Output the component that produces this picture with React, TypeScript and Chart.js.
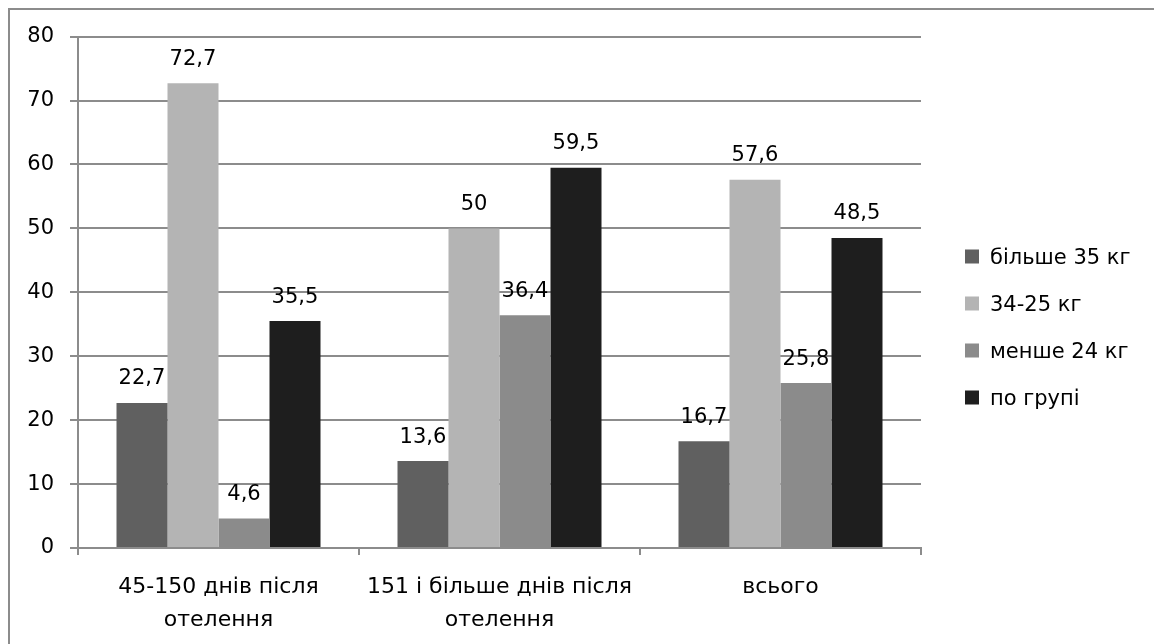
import { useEffect, useRef } from "react";
import { Chart, registerables } from "chart.js";

Chart.register(...registerables);

const categories: (string | string[])[] = [
  ["45-150 днів після", "отелення"],
  ["151 і більше днів після", "отелення"],
  "всього",
];
const seriesNames = ["більше 35 кг", "34-25 кг", "менше 24 кг", "по групі"];
const over35 = [22.7, 13.6, 16.7];
const from34to25 = [72.7, 50, 57.6];
const under24 = [4.6, 36.4, 25.8];
const byGroup = [35.5, 59.5, 48.5];
const yMin = 0;
const yMax = 80;
const yStep = 10;

const colors = ["#606060", "#b4b4b4", "#8b8b8b", "#1e1e1e"];
const FONT = "'DejaVu Sans', sans-serif";
const GRID = "#8c8c8c";

const fmt = (v: number) => String(v).replace(".", ",");

const framePlugin = {
  id: "frame",
  beforeDraw(chart: any) {
    const ctx = chart.ctx;
    ctx.save();
    ctx.strokeStyle = GRID;
    ctx.lineWidth = 2;
    ctx.beginPath();
    ctx.moveTo(1, chart.height);
    ctx.lineTo(1, 1);
    ctx.lineTo(chart.width, 1);
    ctx.stroke();
    ctx.restore();
  },
};

const dataLabelPlugin = {
  id: "dataLabels",
  afterDatasetsDraw(chart: any) {
    const ctx = chart.ctx;
    ctx.save();
    ctx.font = `21px ${FONT}`;
    ctx.fillStyle = "#000";
    ctx.textAlign = "center";
    ctx.textBaseline = "middle";
    chart.data.datasets.forEach((ds: any, i: number) => {
      const meta = chart.getDatasetMeta(i);
      meta.data.forEach((el: any, j: number) => {
        ctx.fillText(fmt(ds.data[j]), el.x, el.y - 24);
      });
    });
    ctx.restore();
  },
};

const sideLegendPlugin = {
  id: "sideLegend",
  afterDraw(chart: any) {
    const ctx = chart.ctx;
    const ds = chart.data.datasets;
    const gap = 47;
    const box = 14;
    const x0 = chart.chartArea.right + 44;
    const cy0 = chart.height / 2 + 3 - ((ds.length - 1) * gap) / 2;
    ctx.save();
    ctx.font = `21px ${FONT}`;
    ctx.textBaseline = "middle";
    ctx.textAlign = "left";
    ds.forEach((d: any, i: number) => {
      const cy = cy0 + i * gap;
      ctx.fillStyle = d.backgroundColor;
      ctx.fillRect(x0, cy - box / 2 - 2, box, box);
      ctx.fillStyle = "#000";
      ctx.fillText(d.label, x0 + 25, cy);
    });
    ctx.restore();
  },
};

export default function App() {
  const ref = useRef<HTMLCanvasElement | null>(null);
  useEffect(() => {
    document.documentElement.style.overflow = "hidden";
    document.body.style.overflow = "hidden";
    if (!ref.current) return;
    const series = [over35, from34to25, under24, byGroup];
    const chart = new Chart(ref.current, {
      type: "bar",
      data: {
        labels: categories,
        datasets: series.map((s, i) => ({
          label: seriesNames[i],
          data: s,
          backgroundColor: colors[i],
          borderWidth: 0,
          barPercentage: 1,
          categoryPercentage: 0.726,
        })),
      },
      options: {
        responsive: false,
        animation: false,
        layout: { padding: { top: 28, right: 233, bottom: 0, left: 2 } },
        plugins: { legend: { display: false }, tooltip: { enabled: false } },
        scales: {
          x: {
            afterFit: (scale: any) => {
              scale.height = 96;
            },
            grid: {
              display: true,
              offset: true,
              drawOnChartArea: false,
              drawTicks: true,
              tickLength: 7,
              color: GRID,
              lineWidth: 2,
            },
            border: { display: true, color: GRID, width: 2 },
            ticks: {
              color: "#000",
              font: { family: FONT, size: 22, lineHeight: 1.48 },
              padding: 16,
              maxRotation: 0,
              autoSkip: false,
            },
          },
          y: {
            min: yMin,
            max: yMax,
            afterFit: (scale: any) => {
              scale.width = 68;
            },
            grid: {
              color: GRID,
              lineWidth: 2,
              tickLength: 8,
              drawTicks: true,
            },
            border: { display: true, color: GRID, width: 2 },
            ticks: {
              stepSize: yStep,
              color: "#000",
              font: { family: FONT, size: 21 },
              padding: 16,
            },
          },
        },
      },
      plugins: [framePlugin, dataLabelPlugin, sideLegendPlugin],
    });
    return () => chart.destroy();
  }, []);

  return (
    <canvas
      ref={ref}
      width={1146}
      height={636}
      style={{ display: "block", position: "fixed", top: 8, left: 8 }}
    />
  );
}
